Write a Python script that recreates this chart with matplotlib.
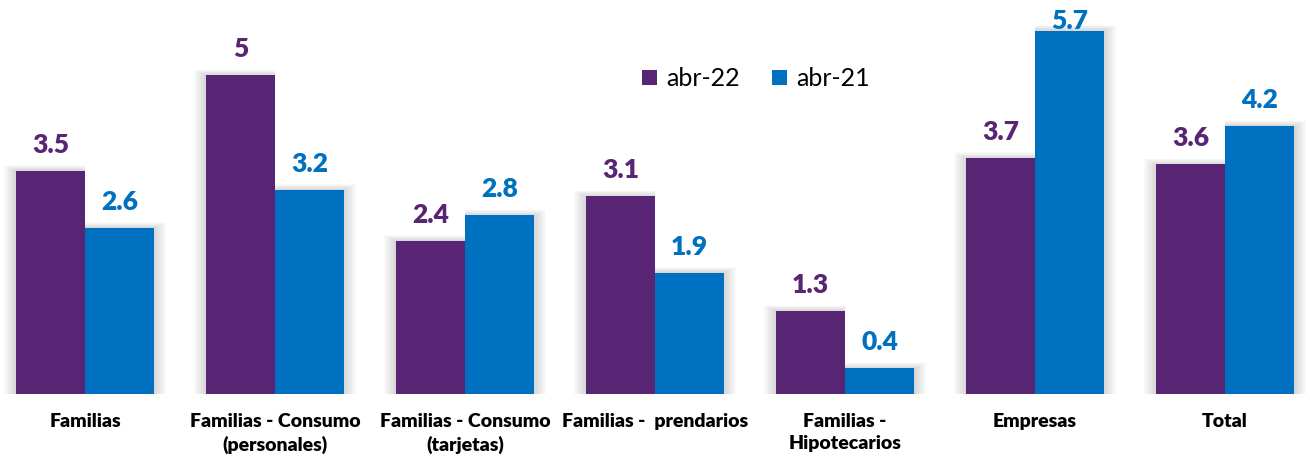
import numpy as np
import matplotlib
matplotlib.use("Agg")
import matplotlib.pyplot as plt
from matplotlib.patches import Rectangle

plt.rcParams['font.family'] = ['Lato', 'DejaVu Sans']

categories = ["Familias", "Familias - Consumo\n(personales)", "Familias - Consumo\n(tarjetas)",
              "Familias -  prendarios", "Familias -\nHipotecarios", "Empresas", "Total"]
abr22 = [3.5, 5.0, 2.4, 3.1, 1.3, 3.7, 3.6]
abr21 = [2.6, 3.2, 2.8, 1.9, 0.4, 5.7, 4.2]
labels22 = ["3.5", "5", "2.4", "3.1", "1.3", "3.7", "3.6"]
labels21 = ["2.6", "3.2", "2.8", "1.9", "0.4", "5.7", "4.2"]

PURPLE = "#572574"
BLUE = "#0070C0"

fig = plt.figure(figsize=(13.10, 4.57), dpi=100)
ax = fig.add_axes([0, 0.138, 1, 0.862])
x = np.arange(len(categories))
w = 0.363
ymax = 6.18

# soft shadow (glow) around each bar
for i in x:
    for k in range(1, 9):
        s = 0.008 * k
        ax.add_patch(Rectangle((i - w - s, 0), w + s, abr22[i] + s * 1.4,
                               color="black", alpha=0.018, lw=0, zorder=1))
        ax.add_patch(Rectangle((i, 0), w + s, abr21[i] + s * 1.4,
                               color="black", alpha=0.018, lw=0, zorder=1))

ax.bar(x - w / 2, abr22, w, color=PURPLE, label="abr-22", zorder=2)
ax.bar(x + w / 2, abr21, w, color=BLUE, label="abr-21", zorder=2)

for i in x:
    ax.text(i - w / 2, min(abr22[i] + 0.22, ymax - 0.52), labels22[i], ha="center", va="bottom",
            color=PURPLE, fontsize=19, fontweight="heavy", zorder=3)
    ax.text(i + w / 2, min(abr21[i] + 0.22, ymax - 0.52), labels21[i], ha="center", va="bottom",
            color=BLUE, fontsize=19, fontweight="heavy", zorder=3)

ax.set_xlim(-0.447, 6.447)
ax.set_ylim(0, ymax)
ax.set_xticks(x)
ax.set_xticklabels(categories, fontsize=14, fontweight="heavy", linespacing=1.35)
ax.tick_params(axis="x", length=0, pad=14)
ax.set_yticks([])
for sp in ax.spines.values():
    sp.set_visible(False)

ax.legend(loc="center", bbox_to_anchor=(0.577, 0.80), ncol=2, frameon=False,
          fontsize=18, handlelength=0.6, handleheight=0.6, handletextpad=0.35,
          columnspacing=1.3)

fig.savefig("out.png", dpi=100)
